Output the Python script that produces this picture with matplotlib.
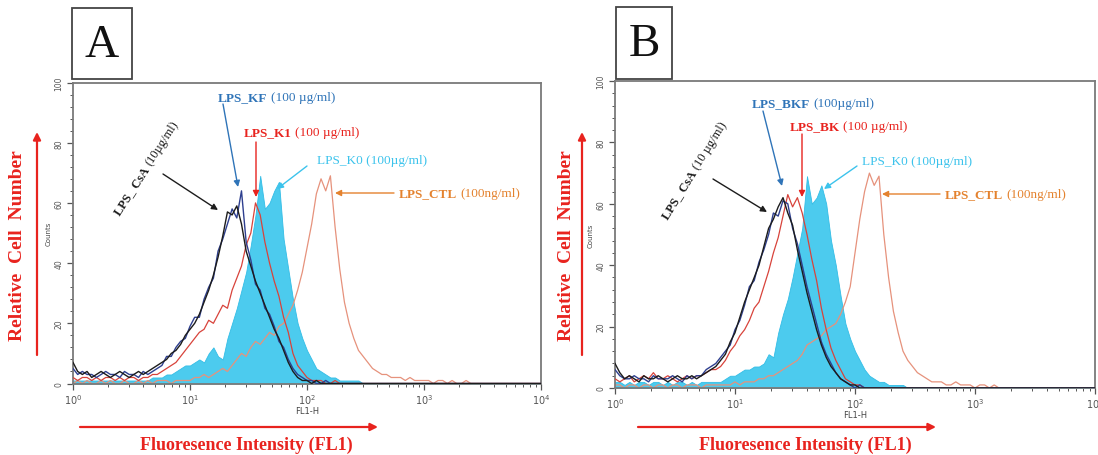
import numpy as np
import matplotlib
matplotlib.use('Agg')
import matplotlib.pyplot as plt
from matplotlib.patches import Rectangle, FancyArrowPatch
from matplotlib.ticker import MultipleLocator, LogLocator, NullFormatter

# histogram channels, log10 of FL1-H (0 .. 4, step 0.04)
channelLog = np.linspace(0, 4, 101)

# ---- panel A counts ----
aCsA = [7, 4, 3, 4, 2, 3, 4, 3, 2, 3,
        4, 3, 2, 3, 4, 3, 4, 5, 6, 7,
        8, 10, 11, 13, 16, 18, 20, 23, 27, 31,
        36, 42, 49, 57, 56, 59, 53, 44, 39, 34,
        30, 26, 22, 18, 15, 11, 7, 4, 2, 1,
        1, 0, 1, 0, 0, 0, 0, 0, 0, 0,
        0, 0, 0, 0, 0, 0, 0, 0, 0, 0,
        0, 0, 0, 0, 0, 0, 0, 0, 0, 0,
        0, 0, 0, 0, 0, 0, 0, 0, 0, 0,
        0, 0, 0, 0, 0, 0, 0, 0, 0, 0,
        0]
aKF = [5, 3, 4, 3, 3, 2, 3, 4, 3, 3,
       2, 4, 3, 3, 2, 4, 3, 4, 5, 6,
       9, 9, 12, 14, 15, 19, 22, 22, 28, 32,
       35, 44, 48, 53, 58, 55, 64, 47, 41, 33,
       31, 25, 23, 19, 14, 12, 8, 5, 3, 2,
       1, 1, 0, 0, 1, 0, 0, 0, 0, 0,
       0, 0, 0, 0, 0, 0, 0, 0, 0, 0,
       0, 0, 0, 0, 0, 0, 0, 0, 0, 0,
       0, 0, 0, 0, 0, 0, 0, 0, 0, 0,
       0, 0, 0, 0, 0, 0, 0, 0, 0, 0,
       0]
aK1 = [2, 1, 2, 2, 1, 2, 1, 2, 2, 1,
       2, 1, 2, 2, 1, 2, 2, 3, 3, 4,
       5, 6, 7, 9, 11, 13, 15, 17, 18, 21,
       20, 23, 26, 25, 31, 35, 39, 46, 50, 60,
       56, 47, 40, 34, 29, 22, 17, 10, 6, 4,
       2, 1, 1, 1, 0, 0, 1, 0, 0, 0,
       0, 0, 0, 0, 0, 0, 0, 0, 0, 0,
       0, 0, 0, 0, 0, 0, 0, 0, 0, 0,
       0, 0, 0, 0, 0, 0, 0, 0, 0, 0,
       0, 0, 0, 0, 0, 0, 0, 0, 0, 0,
       0]
aK0 = [1, 1, 1, 1, 1, 1, 1, 1, 1, 1,
       1, 1, 1, 1, 1, 1, 1, 2, 2, 2,
       3, 3, 4, 5, 6, 6, 7, 8, 7, 10,
       12, 9, 8, 15, 20, 25, 31, 37, 46, 56,
       69, 58, 60, 64, 67, 48, 38, 28, 20, 15,
       11, 8, 5, 4, 3, 2, 2, 1, 1, 1,
       1, 1, 0, 0, 0, 0, 0, 0, 0, 0,
       0, 0, 0, 0, 0, 0, 0, 0, 0, 0,
       0, 0, 0, 0, 0, 0, 0, 0, 0, 0,
       0, 0, 0, 0, 0, 0, 0, 0, 0, 0,
       0]
aCTL = [0, 1, 0, 1, 0, 0, 1, 0, 1, 0,
        0, 1, 0, 0, 1, 0, 1, 0, 1, 1,
        1, 0, 1, 1, 1, 1, 2, 2, 3, 2,
        3, 4, 5, 4, 6, 8, 10, 9, 12, 14,
        13, 15, 17, 16, 19, 20, 23, 26, 31, 37,
        45, 53, 63, 68, 64, 69, 52, 38, 27, 20,
        15, 11, 9, 7, 5, 4, 3, 3, 2, 2,
        2, 1, 2, 1, 1, 1, 1, 0, 1, 1,
        0, 1, 0, 0, 1, 0, 0, 0, 0, 0,
        0, 0, 0, 0, 0, 0, 0, 0, 0, 0,
        0]

# ---- panel B counts ----
bCsA = [8, 5, 3, 4, 3, 2, 4, 3, 3, 4,
        3, 2, 3, 4, 3, 3, 4, 3, 4, 5,
        6, 7, 9, 11, 15, 18, 23, 28, 32, 36,
        40, 46, 52, 55, 59, 62, 57, 53, 45, 38,
        31, 25, 19, 14, 10, 7, 5, 3, 2, 1,
        1, 0, 0, 0, 0, 0, 0, 0, 0, 0,
        0, 0, 0, 0, 0, 0, 0, 0, 0, 0,
        0, 0, 0, 0, 0, 0, 0, 0, 0, 0,
        0, 0, 0, 0, 0, 0, 0, 0, 0, 0,
        0, 0, 0, 0, 0, 0, 0, 0, 0, 0,
        0]
bBKF = [6, 4, 3, 3, 4, 3, 3, 2, 4, 3,
        3, 3, 4, 3, 2, 4, 3, 4, 4, 6,
        7, 8, 10, 12, 14, 19, 22, 27, 33, 35,
        41, 45, 50, 57, 56, 61, 60, 52, 47, 40,
        33, 27, 21, 15, 11, 8, 5, 3, 2, 1,
        0, 1, 0, 0, 0, 0, 0, 0, 0, 0,
        0, 0, 0, 0, 0, 0, 0, 0, 0, 0,
        0, 0, 0, 0, 0, 0, 0, 0, 0, 0,
        0, 0, 0, 0, 0, 0, 0, 0, 0, 0,
        0, 0, 0, 0, 0, 0, 0, 0, 0, 0,
        0]
bBK = [3, 2, 3, 4, 2, 3, 4, 3, 5, 3,
       3, 4, 3, 2, 3, 4, 3, 4, 4, 5,
       6, 6, 7, 9, 12, 14, 17, 19, 22, 26,
       28, 33, 38, 44, 49, 56, 63, 59, 62, 57,
       50, 42, 35, 26, 19, 13, 9, 6, 3, 2,
       1, 1, 0, 0, 0, 0, 0, 0, 0, 0,
       0, 0, 0, 0, 0, 0, 0, 0, 0, 0,
       0, 0, 0, 0, 0, 0, 0, 0, 0, 0,
       0, 0, 0, 0, 0, 0, 0, 0, 0, 0,
       0, 0, 0, 0, 0, 0, 0, 0, 0, 0,
       0]
bK0 = [2, 2, 1, 2, 1, 2, 2, 1, 2, 2,
       1, 2, 1, 2, 2, 1, 2, 1, 2, 2,
       2, 2, 2, 3, 4, 4, 5, 6, 6, 7,
       7, 8, 11, 10, 18, 24, 29, 36, 44, 52,
       69, 60, 62, 66, 60, 48, 40, 30, 21, 16,
       12, 9, 6, 4, 3, 2, 2, 1, 1, 1,
       1, 0, 0, 0, 0, 0, 0, 0, 0, 0,
       0, 0, 0, 0, 0, 0, 0, 0, 0, 0,
       0, 0, 0, 0, 0, 0, 0, 0, 0, 0,
       0, 0, 0, 0, 0, 0, 0, 0, 0, 0,
       0]
bCTL = [1, 1, 0, 1, 1, 0, 1, 1, 0, 1,
        1, 0, 1, 1, 0, 1, 1, 1, 0, 1,
        1, 1, 1, 1, 1, 2, 1, 2, 2, 2,
        3, 3, 4, 4, 5, 6, 7, 8, 9, 11,
        14, 15, 16, 17, 19, 20, 21, 24, 28, 33,
        44, 55, 64, 70, 66, 69, 50, 36, 25, 18,
        12, 9, 7, 5, 4, 3, 2, 2, 2, 1,
        1, 2, 1, 1, 1, 0, 1, 1, 0, 1,
        0, 0, 0, 0, 0, 0, 0, 0, 0, 0,
        0, 0, 0, 0, 0, 0, 0, 0, 0, 0,
        0]

yTicks = [0, 20, 40, 60, 80, 100]
panelNames = ['A', 'B']
labelsA = ['LPS_ CsA', '(10µg/ml)', 'LPS_KF', '(100 µg/ml)', 'LPS_K1', '(100 µg/ml)',
           'LPS_K0 (100µg/ml)', 'LPS_CTL', '(100ng/ml)']
labelsB = ['LPS_ CsA', '(10 µg/ml)', 'LPS_BKF', '(100µg/ml)', 'LPS_BK', '(100 µg/ml)',
           'LPS_K0 (100µg/ml)', 'LPS_CTL', '(100ng/ml)']

W, H = 1098, 456
SERIF = 'Liberation Serif'
C_BLACK = '#1c1c1c'
C_NAVY = '#2e3f8f'
C_RED = '#d8433b'
C_CYAN = '#4ccbee'
C_CTL = '#e6927c'
T_BLUE = '#2f74b8'
T_RED = '#e8231e'
T_CYAN = '#3cc3ec'
T_ORANGE = '#e4822e'

fig = plt.figure(figsize=(W / 100, H / 100), dpi=100)
renderer = fig.canvas.get_renderer()


def P(x, y):
    # pixel position (from top-left) -> figure fraction
    return (x / W, 1 - y / H)


def arrow(tail, tip, color, lw=1.0, ms=9):
    fig.add_artist(FancyArrowPatch(P(*tail), P(*tip), transform=fig.transFigure,
                                   arrowstyle='-|>', mutation_scale=ms, color=color,
                                   lw=lw, shrinkA=0, shrinkB=0))


def txt(x, y, s, color, bold=False, size=9.5, rot=0):
    return fig.text(*P(x, y), s, color=color, fontsize=size, family=SERIF,
                    fontweight='bold' if bold else 'normal', ha='left', va='center',
                    rotation=rot, rotation_mode='anchor')


def pair(x, y, boldS, normS, color, size=9.5, rot=0):
    # bold name followed by normal concentration, along the same baseline
    t = txt(x, y, boldS, color, bold=True, size=size, rot=0)
    w = t.get_window_extent(renderer).width
    t.remove()
    txt(x, y, boldS, color, bold=True, size=size, rot=rot)
    d = w + size * 0.35
    a = np.radians(rot)
    txt(x + d * np.cos(a), y - d * np.sin(a), normS, color, size=size, rot=rot)


def histAxes(left, top, right, bottom, csa, kf, k1, k0, ctl):
    ax = fig.add_axes([left / W, 1 - bottom / H, (right - left) / W, (bottom - top) / H])
    x = 10 ** channelLog
    ax.fill_between(x, k0, 0, color=C_CYAN, lw=0.6, edgecolor='#33bde6', zorder=1)
    ax.plot(x, ctl, color=C_CTL, lw=0.9, zorder=2)
    ax.plot(x, k1, color=C_RED, lw=0.9, zorder=3)
    ax.plot(x, kf, color=C_NAVY, lw=1.0, zorder=4)
    ax.plot(x, csa, color=C_BLACK, lw=1.0, zorder=5)
    ax.set_xscale('log')
    ax.set_xlim(1, 1e4)
    ax.set_ylim(0, 100)
    ax.set_yticks(yTicks)
    ax.yaxis.set_minor_locator(MultipleLocator(4))
    ax.xaxis.set_minor_locator(LogLocator(base=10, subs=np.arange(2, 10)))
    ax.xaxis.set_minor_formatter(NullFormatter())
    for s in ax.spines.values():
        s.set_color('#7a7a7a')
        s.set_linewidth(1.3)
    ax.tick_params(which='both', color='#555555', direction='out')
    ax.tick_params(which='major', length=4, width=0.9)
    ax.tick_params(which='minor', length=2, width=0.7)
    ax.tick_params(axis='y', labelsize=5.5, labelcolor='#555555', labelrotation=90, pad=3)
    ax.tick_params(axis='x', labelsize=7, labelcolor='#555555', pad=2)
    for t in ax.get_yticklabels():
        t.set_va('center')
    ax.set_ylabel('Counts', fontsize=5, color='#444444', labelpad=2)
    ax.set_xlabel('FL1-H', fontsize=6, color='#444444', labelpad=0)
    return ax


histAxes(73, 83.5, 541, 384.5, aCsA, aKF, aK1, aK0, aCTL)
histAxes(615, 82, 1095, 389, bCsA, bBKF, bBK, bK0, bCTL)

# panel letters in boxes
for name, (x0, y0, x1, y1) in zip(panelNames, [(72, 9, 132, 80), (616, 8, 672, 80)]):
    fig.add_artist(Rectangle(P(x0, y1), (x1 - x0) / W, (y1 - y0) / H, transform=fig.transFigure,
                             fill=False, edgecolor='#444444', lw=1.3))
    fig.text(*P((x0 + x1) / 2, (y0 + y1) / 2 + 1), name, fontsize=34, family=SERIF,
             ha='center', va='center', color='#111111')

# red axis titles and arrows
for xt, xa in [(18, 37), (566, 582)]:
    fig.text(*P(xt, 246), 'Relative  Cell  Number', rotation=90, color=T_RED, fontsize=14,
             fontweight='bold', family=SERIF, ha='center', va='center')
    arrow((xa, 356), (xa, 133), T_RED, lw=1.6, ms=11)
for x0, x1, xc in [(80, 378, 246), (638, 936, 805)]:
    arrow((x0, 428), (x1, 428), T_RED, lw=1.6, ms=11)
    fig.text(*P(xc, 445), 'Fluoresence Intensity (FL1)', color=T_RED, fontsize=13,
             fontweight='bold', family=SERIF, ha='center', va='center')

# annotations panel A
L = labelsA
pair(117, 214, L[0], L[1], C_BLACK, size=9, rot=57)
arrow((163, 175), (218, 211), C_BLACK)
pair(218, 98, L[2], L[3], T_BLUE)
arrow((223, 105), (238, 188), T_BLUE)
pair(244, 133, L[4], L[5], T_RED)
arrow((256, 143), (256, 198), T_RED)
txt(317, 161, L[6], T_CYAN)
arrow((307, 167), (277, 190), T_CYAN)
pair(399, 194, L[7], L[8], T_ORANGE)
arrow((394, 194), (335, 194), T_ORANGE)

# annotations panel B
L = labelsB
pair(665, 218, L[0], L[1], C_BLACK, size=9, rot=58)
arrow((713, 180), (767, 213), C_BLACK)
pair(752, 104, L[2], L[3], T_BLUE)
arrow((763, 112), (782, 187), T_BLUE)
pair(790, 127, L[4], L[5], T_RED)
arrow((802, 135), (802, 198), T_RED)
txt(862, 162, L[6], T_CYAN)
arrow((857, 167), (824, 190), T_CYAN)
pair(945, 195, L[7], L[8], T_ORANGE)
arrow((940, 195), (882, 195), T_ORANGE)

fig.savefig('out.png', dpi=100)
